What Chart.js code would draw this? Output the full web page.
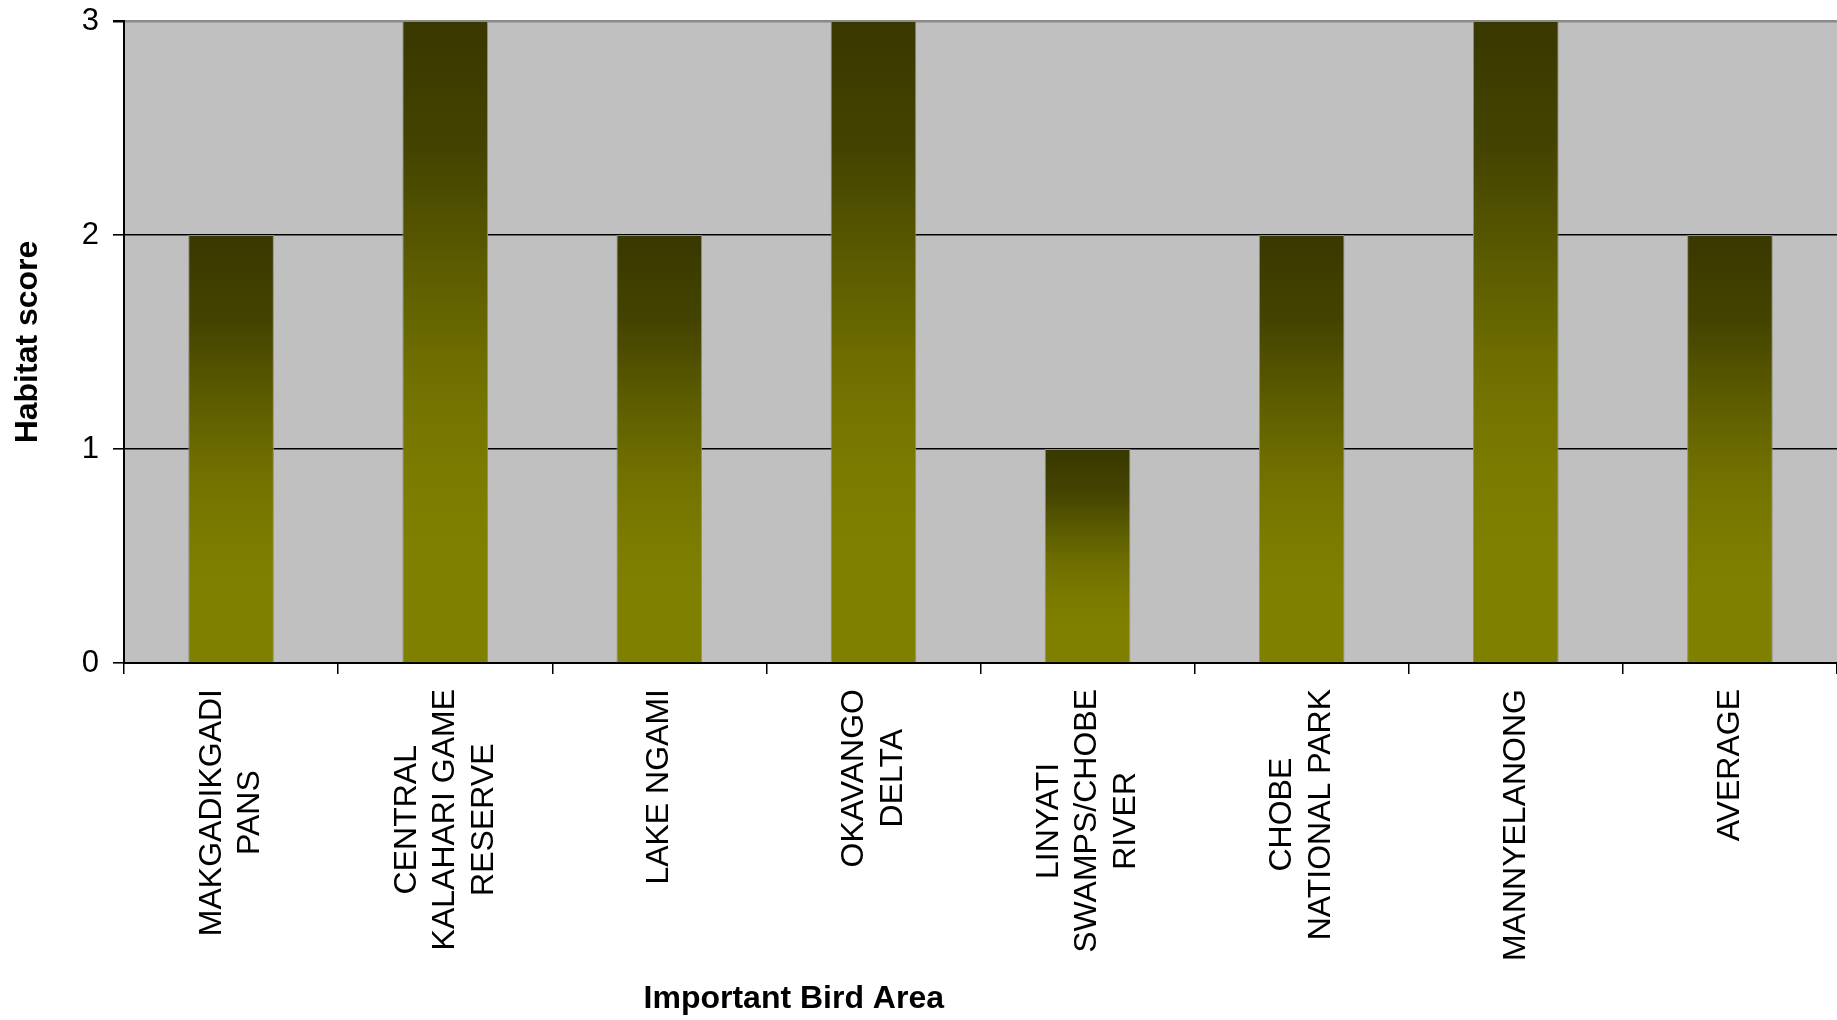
<!DOCTYPE html>
<html>
<head>
<meta charset="utf-8">
<script src="https://cdn.jsdelivr.net/npm/chart.js@4.4.1/dist/chart.umd.min.js"></script>
<style>
  html, body { margin: 0; padding: 0; background: #ffffff; }
  #wrap { width: 1837px; height: 1020px; position: relative; }
</style>
</head>
<body>
<div id="wrap"><canvas id="habitatChart"></canvas></div>
<script>
// Important Bird Areas, each label split into the lines used on the axis
const areas = [
  ['MAKGADIKGADI', 'PANS'],
  ['CENTRAL', 'KALAHARI GAME', 'RESERVE'],
  ['LAKE NGAMI'],
  ['OKAVANGO', 'DELTA'],
  ['LINYATI', 'SWAMPS/CHOBE', 'RIVER'],
  ['CHOBE', 'NATIONAL PARK'],
  ['MANNYELANONG'],
  ['AVERAGE']
];
const habitatScores = [2, 3, 2, 3, 1, 2, 3, 2];
const scoreTicks = [0, 1, 2, 3];

const FONT = '"Liberation Sans", Arial, sans-serif';

//grey plot background behind the bars
const plotBackground = {
  id: 'plotBackground',
  beforeDraw(chart) {
    const {ctx, chartArea: a} = chart;
    ctx.save();
    ctx.fillStyle = '#c0c0c0';
    ctx.fillRect(a.left, a.top, a.right - a.left, a.bottom - a.top);
    ctx.restore();
  }
};

//category labels: block starts just under the axis, lines centred on each other
const areaLabels = {
  id: 'areaLabels',
  afterDraw(chart) {
    const {ctx, chartArea: a} = chart;
    const x = chart.scales.x;
    ctx.save();
    ctx.fillStyle = '#000000';
    ctx.font = '32px ' + FONT;
    const lineH = 38.5;
    areas.forEach((lines, i) => {
      const cx = x.getPixelForValue(i);
      const maxW = Math.max(...lines.map(l => ctx.measureText(l).width));
      const firstX = cx - (lines.length - 1) * lineH / 2;
      lines.forEach((line, j) => {
        ctx.save();
        ctx.translate(firstX + j * lineH, a.bottom + 26 + maxW / 2);
        ctx.rotate(-Math.PI / 2);
        ctx.textAlign = 'center';
        ctx.textBaseline = 'middle';
        ctx.fillText(line, 0, 0);
        ctx.restore();
      });
    });
    //axis title, placed left of centre like the original
    ctx.font = 'bold 32px ' + FONT;
    ctx.textAlign = 'center';
    ctx.textBaseline = 'middle';
    ctx.fillText('Important Bird Area', a.left + (a.right - a.left) * 0.391, a.bottom + 336);
    ctx.restore();
  }
};

const ctx = document.getElementById('habitatChart').getContext('2d');

new Chart(ctx, {
  type: 'bar',
  data: {
    labels: areas.map(l => l.join(' ')),
    datasets: [{
      label: 'Habitat score',
      data: habitatScores,
      backgroundColor: (c) => {
        const chart = c.chart;
        if (!chart.chartArea || c.raw === undefined) return '#808000';
        const y = chart.scales.y;
        const top = y.getPixelForValue(c.raw);
        const base = y.getPixelForValue(0);
        const g = chart.ctx.createLinearGradient(0, top, 0, base);
        g.addColorStop(0, '#383800');
        g.addColorStop(0.2, '#444400');
        g.addColorStop(0.4, '#5e5e00');
        g.addColorStop(0.55, '#707000');
        g.addColorStop(0.7, '#7b7b00');
        g.addColorStop(0.85, '#808000');
        g.addColorStop(1, '#808000');
        return g;
      },
      borderColor: '#8e8e7e',
      borderWidth: 1,
      borderSkipped: 'bottom',
      categoryPercentage: 1,
      barPercentage: 0.4
    }]
  },
  options: {
    responsive: true,
    maintainAspectRatio: false,
    devicePixelRatio: 1,
    animation: false,
    layout: { padding: { top: 21, right: 0, bottom: 0, left: 0 } },
    plugins: {
      legend: { display: false },
      tooltip: { enabled: false }
    },
    scales: {
      x: {
        ticks: { display: false },
        grid: {
          offset: true,
          drawOnChartArea: false,
          drawTicks: true,
          tickLength: 11,
          tickColor: '#000000',
          lineWidth: 1.5
        },
        border: { color: '#000000', width: 2 },
        afterFit: (s) => { s.height = 357; }
      },
      y: {
        min: 0,
        max: 3,
        afterBuildTicks: (s) => { s.ticks = scoreTicks.map(v => ({value: v})); },
        ticks: {
          color: '#000000',
          padding: 14,
          font: { family: FONT, size: 31 }
        },
        grid: {
          color: (c) => c.tick && c.tick.value === 3 ? '#8a8a8a' : '#000000',
          lineWidth: (c) => c.tick && c.tick.value === 3 ? 2.5 : 1.6,
          tickColor: '#000000',
          tickLength: 11
        },
        border: { color: '#000000', width: 2 },
        title: {
          display: true,
          text: 'Habitat score',
          color: '#000000',
          font: { family: FONT, size: 32, weight: 'bold' },
          padding: { top: 9, bottom: 0 }
        },
        afterFit: (s) => {
          s.width = 124;
          s.paddingTop = 0;
          s.paddingBottom = 0;
        }
      }
    }
  },
  plugins: [plotBackground, areaLabels]
});
</script>
</body>
</html>
